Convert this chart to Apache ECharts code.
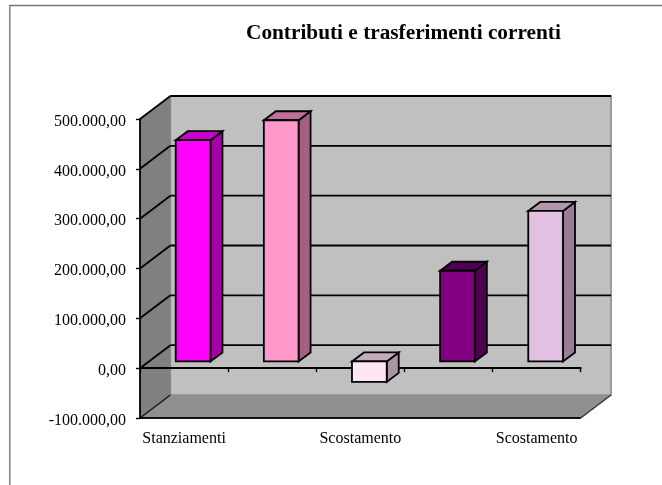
<!DOCTYPE html>
<html><head><meta charset="utf-8">
<style>html,body{margin:0;padding:0;background:#fff}#c{width:662px;height:485px}</style>
<script src="https://cdn.jsdelivr.net/npm/echarts@6/dist/echarts.min.js"></script>
</head><body><div id="c"></div>
<script>
const titleText = 'Contributi e trasferimenti correnti';
const categories = ['Stanziamenti', '', 'Scostamento', '', 'Scostamento'];
const values = [444000, 484000, -41000, 182000, 302000];
const yTicks = [-100000, 0, 100000, 200000, 300000, 400000, 500000];
const frontColors = ['#ff00ff', '#ff99cc', '#ffe6f5', '#800080', '#e3bfe2'];
const sideColors = ['#a800a8', '#a65f80', '#a897a2', '#4f0050', '#997c98'];
const topColors = ['#c800c8', '#c06f99', '#c4acba', '#4f0050', '#b096ae'];

const FONT = '"Liberation Serif","Times New Roman",serif';
const WALL_DX = 30.4, WALL_DY = -23;   // depth of the 3D box
const BAR_DX0 = 9, BAR_DY0 = -6.7;     // bar front plane inside the box
const BAR_DX = 12, BAR_DY = -9;        // bar depth
const BAR_RATIO = 0.394;

function fmt(v) {
  const n = Math.abs(v).toFixed(0).replace(/\B(?=(\d{3})+$)/g, '.');
  return '{a|' + (v < 0 ? '-' : '') + n + ',00}';
}
const poly = (points, fill, stroke, lw) => ({
  type: 'polygon', shape: { points },
  style: { fill, stroke: stroke || null, lineWidth: lw || 0 }
});
const seg = (a, b, stroke, lw) => ({
  type: 'line', shape: { x1: a[0], y1: a[1], x2: b[0], y2: b[1] },
  style: { stroke, lineWidth: lw }
});

function renderWalls(params, api) {
  const cs = params.coordSys;
  const L = cs.x, R = cs.x + cs.width;
  const T = api.coord([0, yTicks[yTicks.length - 1]])[1];
  const B = api.coord([0, yTicks[0]])[1];
  const d = [WALL_DX, WALL_DY];
  return { type: 'group', children: [
    poly([[L + d[0], T + d[1]], [R + d[0], T + d[1]], [R + d[0], B + d[1]], [L + d[0], B + d[1]]], '#c0c0c0', '#8f8f8f', 1.6),
    poly([[L, T], [L + d[0], T + d[1]], [L + d[0], B + d[1]], [L, B]], '#808080'),
    poly([[L, B], [R, B], [R + d[0], B + d[1]], [L + d[0], B + d[1]]], '#909090'),
    seg([L, B], [R, B], '#111', 1.8),
    seg([L, B], [L + d[0], B + d[1]], '#111', 1.4),
    seg([R, B], [R + d[0], B + d[1]], '#333', 1.4)
  ]};
}
function renderGrid(params, api) {
  const cs = params.coordSys;
  const L = cs.x, R = cs.x + cs.width;
  const y = api.coord([0, api.value(1)])[1];
  const v = api.value(1);
  if (v === yTicks[0]) return { type: 'group', children: [] };
  return { type: 'group', children: [
    seg([L, y], [L + WALL_DX, y + WALL_DY], '#000', 1.8),
    seg([L + WALL_DX, y + WALL_DY], [R + WALL_DX, y + WALL_DY], '#000', 1.8)
  ]};
}
function renderBar(params, api) {
  const i = api.value(0);
  const c0 = api.coord([i, 0]);
  const c1 = api.coord([i, api.value(1)]);
  const w = api.size([1, 0])[0] * BAR_RATIO;
  const x0 = c0[0] - w / 2 + BAR_DX0, x1 = x0 + w;
  const yA = c0[1] + BAR_DY0, yB = c1[1] + BAR_DY0;
  const top = Math.min(yA, yB), bot = Math.max(yA, yB);
  const S = '#000', LW = 1.8;
  return { type: 'group', children: [
    poly([[x1, top], [x1 + BAR_DX, top + BAR_DY], [x1 + BAR_DX, bot + BAR_DY], [x1, bot]], sideColors[i], S, LW),
    poly([[x0, top], [x0 + BAR_DX, top + BAR_DY], [x1 + BAR_DX, top + BAR_DY], [x1, top]], topColors[i], S, LW),
    poly([[x0, top], [x1, top], [x1, bot], [x0, bot]], frontColors[i], S, LW)
  ]};
}

const chart = echarts.init(document.getElementById('c'), null, { renderer: 'canvas' });
chart.setOption({
  animation: false,
  backgroundColor: '#fff',
  title: { text: titleText, left: 241, top: 18,
    textStyle: { fontFamily: FONT, fontSize: 21.3, fontWeight: 'bold', color: '#000' } },
  grid: { left: 140, right: 81.3, top: 119, bottom: 67 },
  xAxis: [
    { type: 'category', data: categories, position: 'bottom', z: 3,
      axisLine: { onZero: true, lineStyle: { color: '#000', width: 2 } },
      axisTick: { show: true, interval: 0, length: 4, lineStyle: { color: '#000', width: 1.4 } },
      axisLabel: { show: false }, splitLine: { show: false } },
    { type: 'category', data: categories, position: 'bottom', z: 3,
      axisLine: { show: false, onZero: false }, axisTick: { show: false },
      axisLabel: { show: true, interval: 0, margin: 13, fontFamily: FONT, fontSize: 16, color: '#000' },
      splitLine: { show: false } }
  ],
  yAxis: { type: 'value', min: -100000, max: 500000, interval: 100000, z: 3,
    axisLine: { show: true, onZero: false, lineStyle: { color: '#000', width: 1.8 } },
    axisTick: { show: true, length: 4, lineStyle: { color: '#000', width: 1.4 } },
    axisLabel: { margin: 14, formatter: fmt,
      rich: { a: { padding: [5, 0, 0, 0], fontFamily: FONT, fontSize: 16, color: '#000' } } },
    splitLine: { show: false } },
  graphic: [{ type: 'polyline', silent: true, z: 10,
    shape: { points: [[9.8, 485], [9.8, 5.5], [662, 5.5]] },
    style: { fill: null, stroke: '#777', lineWidth: 1.4 } }],
  series: [
    { type: 'custom', name: 'walls', z: 1, clip: false, silent: true, renderItem: renderWalls,
      data: [[0, 0]], encode: { x: 0, y: 1 } },
    { type: 'custom', name: 'gridlines', z: 2, clip: false, silent: true, renderItem: renderGrid,
      data: yTicks.map(t => [0, t]), encode: { x: 0, y: 1 } },
    { type: 'custom', name: 'values', z: 5, clip: false, renderItem: renderBar,
      data: values.map((v, i) => [i, v]), encode: { x: 0, y: 1 } }
  ]
});
</script></body></html>
